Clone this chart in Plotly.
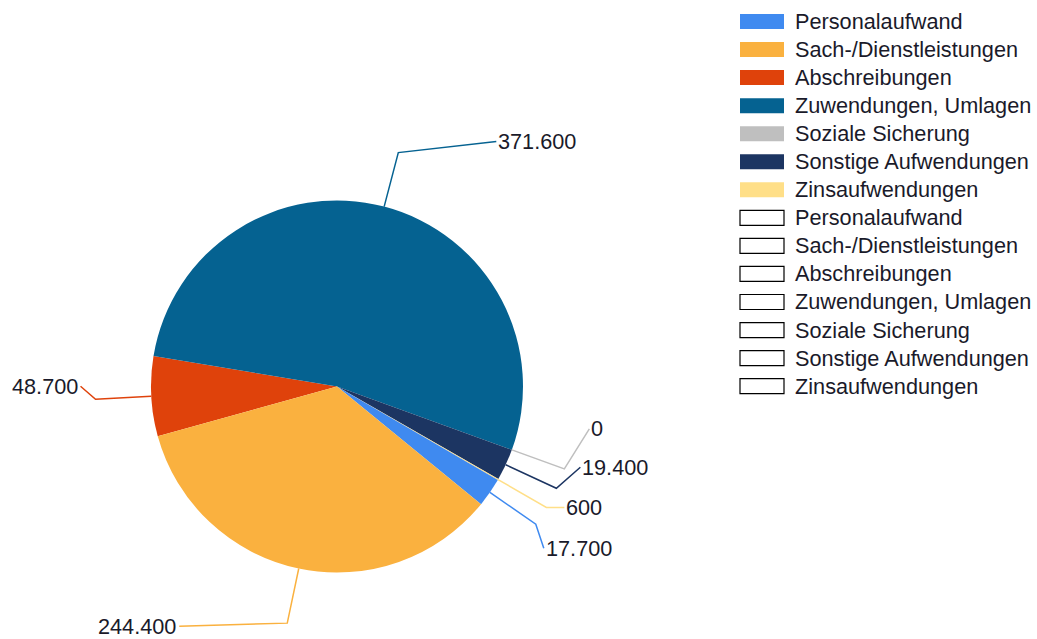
import math
import plotly.graph_objects as go

# ---------------- data ----------------
categories = ["Personalaufwand", "Sach-/Dienstleistungen", "Abschreibungen",
              "Zuwendungen, Umlagen", "Soziale Sicherung", "Sonstige Aufwendungen",
              "Zinsaufwendungen"]
values = [17700, 244400, 48700, 371600, 0, 19400, 600]
colors = ["#3F8AF0", "#FAB13F", "#DF420B", "#056291", "#BFBFBF", "#1C3562", "#FFDF88"]
# order in which the slices follow each other clockwise around the pie
slice_order = [2, 3, 4, 5, 6, 0, 1]

# ---------------- layout constants ----------------
W, H = 1037, 639
CX, CY, R = 337.0, 386.5, 186.0          # pie centre / radius in px
ROTATION = -105.5                        # start angle of first slice (deg, clockwise from 12h)
ELBOW = 1.3                              # elbow radius factor of the leader lines
# label end point offsets from the elbow (px) and text anchor, per category index
label_offsets = {0: (8, 24, "left"), 1: (-108, 3, "right"), 2: (-15, -13, "right"),
                 3: (98, -11, "left"), 4: (25, -40, "left"), 5: (24, -21, "left"),
                 6: (18, 0, "left")}
FONT = "Liberation Sans, Arial, sans-serif"
FS = 21.7
TXT = "#1a1a2a"


def fmt(v):
    return f"{v:,}".replace(",", ".")


def px2p(x, y):
    return x / W, 1 - y / H


fig = go.Figure()

fig.add_trace(go.Pie(
    labels=[categories[i] for i in slice_order],
    values=[values[i] for i in slice_order],
    marker=dict(colors=[colors[i] for i in slice_order], line=dict(width=0)),
    sort=False, direction="clockwise", rotation=ROTATION,
    textinfo="none", showlegend=False,
    domain=dict(x=[(CX - R) / W, (CX + R) / W], y=[1 - (CY + R) / H, 1 - (CY - R) / H]),
    hovertemplate="%{label}: %{value:,}<extra></extra>",
))

shapes = []
annotations = []

# leader lines and value labels, from the slice angles
total = float(sum(values))
ang = ROTATION
for i in slice_order:
    span = values[i] / total * 360.0
    mid = math.radians(ang + span / 2.0)
    ang += span
    ax, ay = CX + R * math.sin(mid), CY - R * math.cos(mid)
    ex, ey = CX + ELBOW * R * math.sin(mid), CY - ELBOW * R * math.cos(mid)
    dx, dy, anchor = label_offsets[i]
    lx, ly = ex + dx, ey + dy
    p = [px2p(ax, ay), px2p(ex, ey), px2p(lx, ly)]
    shapes.append(dict(type="path", xref="paper", yref="paper",
                       path=f"M {p[0][0]},{p[0][1]} L {p[1][0]},{p[1][1]} L {p[2][0]},{p[2][1]}",
                       line=dict(color=colors[i], width=1.5)))
    tx = lx + (1 if anchor == "left" else -2)
    tp = px2p(tx, ly)
    annotations.append(dict(x=tp[0], y=tp[1], xref="paper", yref="paper",
                            text=fmt(values[i]), showarrow=False, xanchor=anchor,
                            yanchor="middle", font=dict(family=FONT, size=FS, color=TXT),
                            borderpad=0))

# legend: filled entries, then empty entries for the second (empty) series
LX0, LX1, BOX_H = 740, 784, 15
ROW0, ROW_STEP = 21.5, 28.05
for k in range(2 * len(categories)):
    i = k % len(categories)
    yc = ROW0 + k * ROW_STEP
    x0, y0 = px2p(LX0, yc - BOX_H / 2)
    x1, y1 = px2p(LX1, yc + BOX_H / 2)
    if k < len(categories):
        shapes.append(dict(type="rect", xref="paper", yref="paper", x0=x0, x1=x1, y0=y0, y1=y1,
                           fillcolor=colors[i], line=dict(width=0)))
    else:
        shapes.append(dict(type="rect", xref="paper", yref="paper", x0=x0, x1=x1, y0=y0, y1=y1,
                           fillcolor="white", line=dict(color="#000000", width=1.2)))
    tx, ty = px2p(794, yc)
    annotations.append(dict(x=tx, y=ty, xref="paper", yref="paper", text=categories[i],
                            showarrow=False, xanchor="left", yanchor="middle",
                            font=dict(family=FONT, size=FS, color=TXT), borderpad=0))

fig.update_layout(
    width=W, height=H, autosize=False,
    margin=dict(l=0, r=0, t=0, b=0),
    paper_bgcolor="white", plot_bgcolor="white",
    shapes=shapes, annotations=annotations,
    showlegend=False,
)

fig.write_html("out.html", config={"displayModeBar": False},
               post_script="document.body.style.margin='0';")
